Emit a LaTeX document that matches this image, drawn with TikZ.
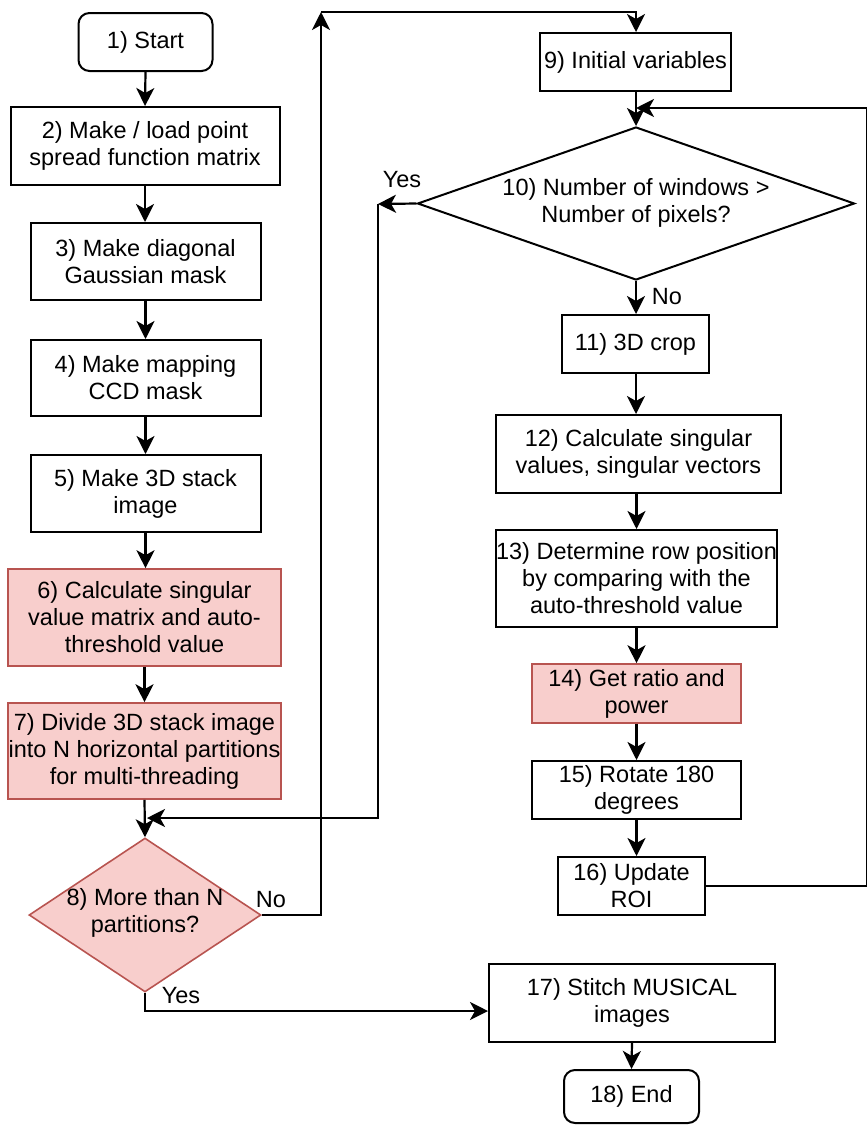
\documentclass[tikz,border=0pt]{standalone}
\usepackage{fontspec}
\setmainfont{Liberation Sans}
\usetikzlibrary{shapes.geometric,arrows.meta}
\definecolor{pinkfill}{HTML}{F8CECC}
\definecolor{pinkdraw}{HTML}{B85450}
\begin{document}
\begin{tikzpicture}[x=1pt,y=-1pt,
  every node/.style={font=\fontsize{23.5}{27}\selectfont},
  box/.style={draw=black,line width=2pt,rectangle,inner sep=0pt,align=center,fill=white},
  pbox/.style={box,draw=pinkdraw,fill=pinkfill,line width=1.6pt},
  term/.style={box,rounded corners=11pt},
  dia/.style={draw=black,line width=2pt,diamond,inner sep=0pt,align=center,fill=white},
  pdia/.style={dia,draw=pinkdraw,fill=pinkfill,line width=1.6pt},
  arr/.style={line width=2.2pt,-{Stealth[length=18pt,width=18pt,inset=5pt]}},
  ln/.style={line width=2.2pt},
  lbl/.style={inner sep=0pt}
]
\useasboundingbox (0,0) rectangle (867,1125);
% left column
\node[term,minimum width=134pt,minimum height=58pt] (start) at (145.5,42) {1) Start};
\node[box,minimum width=269pt,minimum height=78pt] (n2) at (145,146) {2) Make / load point\\spread function matrix};
\node[box,minimum width=230pt,minimum height=77pt] (n3) at (145.5,261.5) {3) Make diagonal\\Gaussian mask};
\node[box,minimum width=230pt,minimum height=76pt] (n4) at (145.5,378) {4) Make mapping\\CCD mask};
\node[box,minimum width=230pt,minimum height=77pt] (n5) at (145.5,493.5) {5) Make 3D stack\\image};
\node[pbox,minimum width=273pt,minimum height=97pt] (n6) at (144.5,617.5) {6) Calculate singular\\value matrix and auto-\\threshold value};
\node[pbox,minimum width=273pt,minimum height=96pt] (n7) at (144.5,751) {7) Divide 3D stack image\\into N horizontal partitions\\for multi-threading};
\node[pdia,minimum width=232pt,minimum height=154pt] (n8) at (145,915) {};
\node[lbl,align=center] (t8) at (145,913) {8) More than N\\partitions?};
% right column
\node[box,minimum width=191pt,minimum height=58pt] (n9) at (635.5,62) {9) Initial variables};
\node[dia,minimum width=437pt,minimum height=153pt] (n10) at (636,203.5) {};
\node[lbl,align=center] (t10) at (636,203) {10) Number of windows >\\Number of pixels?};
\node[box,minimum width=147pt,minimum height=58pt] (n11) at (635.5,344) {11) 3D crop};
\node[box,minimum width=285pt,minimum height=78pt] (n12) at (638.5,454) {12) Calculate singular\\values, singular vectors};
\node[box,minimum width=281pt,minimum height=97pt] (n13) at (636.5,578.5) {13) Determine row position\\by comparing with the\\auto-threshold value};
\node[pbox,minimum width=209pt,minimum height=59pt] (n14) at (636.5,693.5) {14) Get ratio and\\power};
\node[box,minimum width=209pt,minimum height=58pt] (n15) at (636.5,790) {15) Rotate 180\\degrees};
\node[box,minimum width=147pt,minimum height=58pt] (n16) at (631.5,886) {16) Update\\ROI};
\node[box,minimum width=286pt,minimum height=78pt] (n17) at (632,1003) {17) Stitch MUSICAL\\images};
\node[term,minimum width=135pt,minimum height=53pt] (n18) at (631.5,1096.5) {18) End};
% labels
\node[lbl] (yesA) at (402,180) {Yes};
\node[lbl] (noA) at (667,297) {No};
\node[lbl] (noB) at (271,900) {No};
\node[lbl] (yesB) at (181,996) {Yes};
% coordinates
\coordinate (c8r) at (321,915);
\coordinate (c8top) at (321,12);
\coordinate (c9top) at (636,12);
\coordinate (yes1) at (378,204);
\coordinate (yes1b) at (378,818);
\coordinate (in8) at (147,818);
\coordinate (loopr) at (867,886);
\coordinate (loopt) at (867,108);
\coordinate (in10) at (636,108);
\coordinate (yes2) at (145,1011);
% left connectors
\draw[arr] (start.south) -- (n2.north);
\draw[arr] (n2.south) -- (n3.north -| n2.south);
\draw[arr] (n3.south) -- (n4.north);
\draw[arr] (n4.south) -- (n5.north);
\draw[arr] (n5.south) -- (n6.north -| n5.south);
\draw[arr] (n6.south) -- (n7.north);
\draw[arr] (n7.south) -- (n8.north);
% No branch of 8
\draw[arr] (n8.east) -- (c8r) -- (c8top);
\draw[arr] (c8top) -- (c9top) -- (n9.north -| c9top);
% right connectors
\draw[arr] (n9.south -| c9top) -- (n10.north);
\draw[arr] (n10.south) -- (n11.north -| n10.south);
\draw[arr] (n11.south -| n10.south) -- (n12.north -| n10.south);
\draw[arr] (n12.south -| n13.north) -- (n13.north);
\draw[arr] (n13.south) -- (n14.north);
\draw[arr] (n14.south) -- (n15.north);
\draw[arr] (n15.south) -- (n16.north -| n15.south);
% loop back
\draw[ln] (n16.east |- loopr) -- (loopr) -- (loopt);
\draw[arr] (loopt) -- (in10);
% Yes branch of 10
\draw[arr] (n10.west) -- (yes1);
\draw[arr] (yes1) -- (yes1b) -- (in8);
% Yes branch of 8
\draw[arr] (n8.south) -- (yes2) -- (yes2 -| n17.west);
\draw[arr] (n17.south) -- (n18.north);
\end{tikzpicture}
\end{document}
